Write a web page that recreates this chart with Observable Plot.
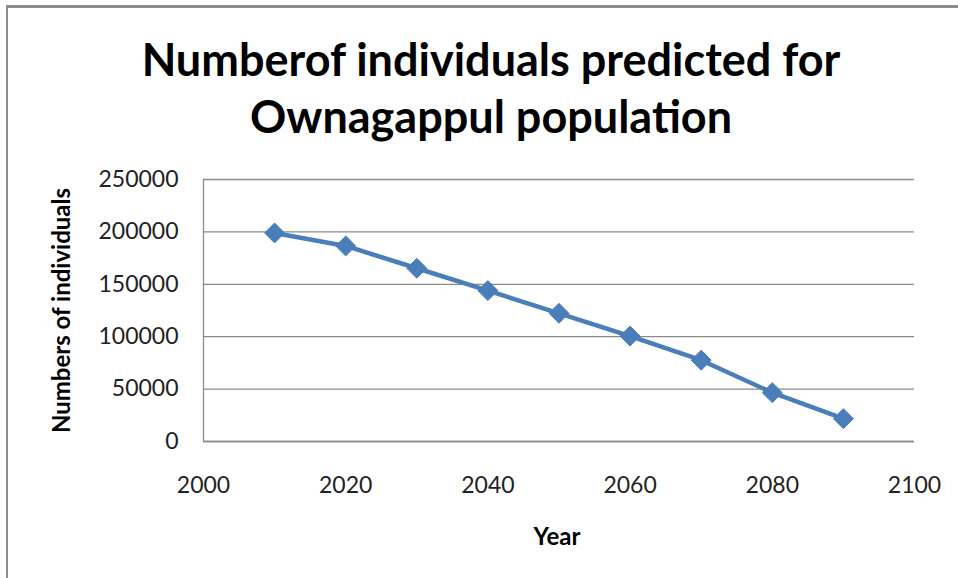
<!DOCTYPE html>
<html>
<head>
<meta charset="utf-8">
<script src="https://cdn.jsdelivr.net/npm/d3@7"></script>
<script src="https://cdn.jsdelivr.net/npm/@observablehq/plot@0.6"></script>
<style>
  html, body { margin: 0; padding: 0; background: #fff; }
  #wrap { position: relative; width: 958px; height: 578px; overflow: hidden; }
  #frame { position: absolute; left: 6px; top: 5px; width: 980px; height: 600px;
           border-top: 3px solid #8c8c8c; border-left: 2px solid #8c8c8c; box-sizing: border-box; }
  #chart { position: absolute; left: 0; top: 0; }
</style>
</head>
<body>
<div id="wrap"><div id="frame"></div><div id="chart"></div></div>
<script>
const years = [2010, 2020, 2030, 2040, 2050, 2060, 2070, 2080, 2090];
const individuals = [199000, 186600, 165300, 144000, 122300, 100600, 77600, 46600, 21800];
const xTicks = [2000, 2020, 2040, 2060, 2080, 2100];
const yTicks = [0, 50000, 100000, 150000, 200000, 250000];
const titleLines = ["Numberof individuals predicted for", "Ownagappul population"];
const xLabel = "Year";
const yLabel = "Numbers of individuals";

const data = years.map((y, i) => ({year: y, value: individuals[i]}));
const font = "Lato, 'Open Sans', sans-serif";

const chart = Plot.plot({
  width: 958,
  height: 578,
  marginLeft: 203,
  marginRight: 44,
  marginTop: 179,
  marginBottom: 137,
  style: {fontFamily: font, fontSize: "23px", color: "#222", background: "transparent"},
  x: {domain: [2000, 2100], ticks: xTicks, tickFormat: d => String(d), label: null},
  y: {domain: [0, 250000], ticks: yTicks, tickFormat: d => String(d), label: null},
  marks: [
    Plot.gridY(yTicks, {stroke: "#8a8a8a", strokeOpacity: 1, strokeWidth: 1.3}),
    Plot.ruleX([2000], {stroke: "#8a8a8a", strokeWidth: 1.3}),
    Plot.ruleY([0], {stroke: "#8a8a8a", strokeWidth: 1.3}),
    Plot.axisX({ticks: xTicks, tickSize: 0, tickPadding: 35, tickFormat: d => String(d), fill: "#222", fontSize: 23, label: null}),
    Plot.axisY({ticks: yTicks, tickSize: 0, tickPadding: 25, tickFormat: d => String(d), fill: "#222", fontSize: 23, label: null}),
    Plot.line(data, {x: "year", y: "value", stroke: "#4a7ebb", strokeWidth: 4.5}),
    Plot.dot(data, {x: "year", y: "value", symbol: "diamond2", r: 9, fill: "#4a7ebb", stroke: "#4a7ebb", strokeWidth: 1}),
    Plot.text([titleLines[0]], {frameAnchor: "top", dx: -68, dy: -118, text: d => d, fontSize: 45, fontWeight: "bold", fill: "#000", lineAnchor: "middle"}),
    Plot.text([titleLines[1]], {frameAnchor: "top", dx: -68, dy: -61, text: d => d, fontSize: 45, fontWeight: "bold", fill: "#000", lineAnchor: "middle"}),
    Plot.text([xLabel], {frameAnchor: "bottom", dx: -2, dy: 96, text: d => d, fontSize: 24, fontWeight: "bold", fill: "#000", lineAnchor: "middle"}),
    Plot.text([yLabel], {frameAnchor: "left", dx: -141, text: d => d, fontSize: 24, fontWeight: "bold", fill: "#000", rotate: -90, textAnchor: "middle", lineAnchor: "middle"})
  ]
});
document.getElementById("chart").appendChild(chart);
</script>
</body>
</html>
